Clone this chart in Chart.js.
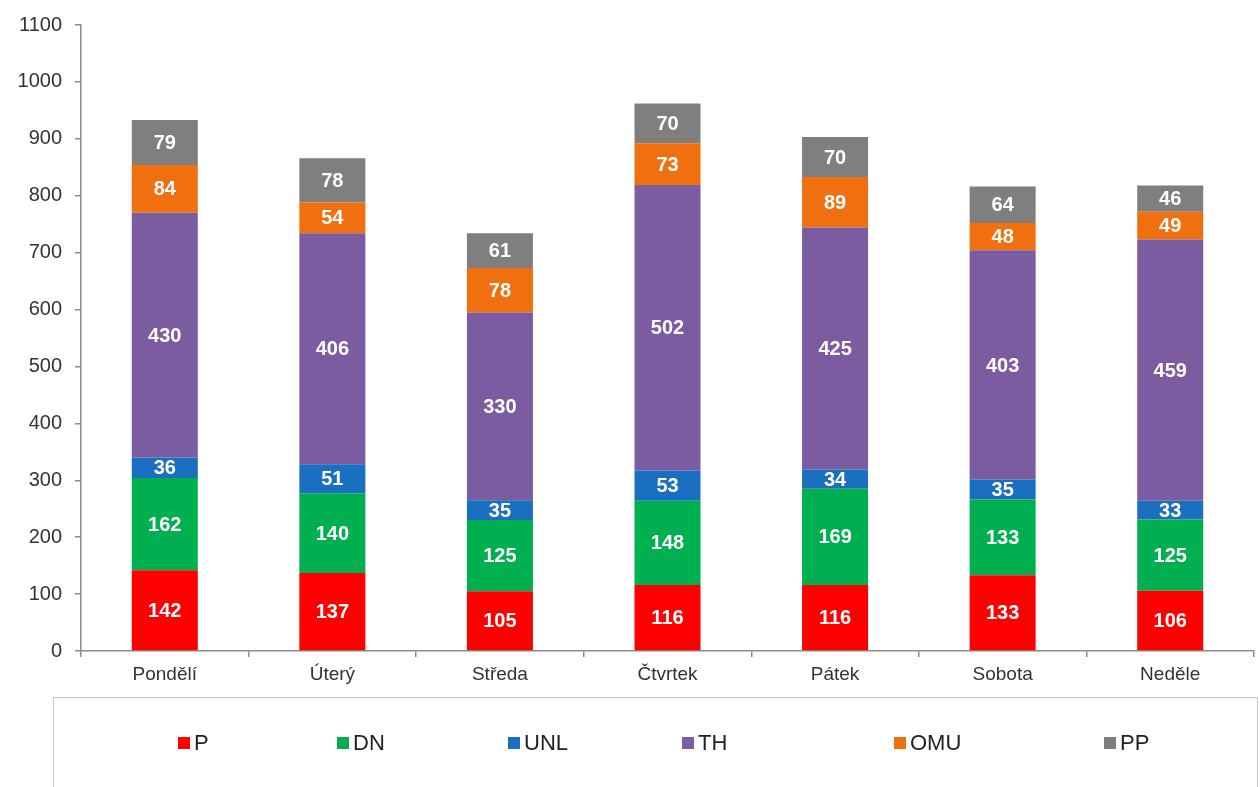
<!DOCTYPE html>
<html>
<head>
<meta charset="utf-8">
<script src="https://cdn.jsdelivr.net/npm/chart.js@4.4.1/dist/chart.umd.min.js"></script>
<style>
  body { margin: 0; background: #fff; font-family: "Liberation Sans", Arial, sans-serif; }
  #wrap { position: relative; width: 1260px; height: 787px; }
  #legend { position: absolute; left: 53px; top: 697px; width: 1205px; height: 100px;
            border: 1px solid #c8c8c8; box-sizing: border-box; }
  .item { position: absolute; top: 33px; font-size: 22px; color: #222; line-height: 24px; white-space: nowrap; }
  .item i { display: inline-block; width: 12px; height: 12px; margin-right: 4px; vertical-align: 1px; }
</style>
</head>
<body>
<div id="wrap">
  <canvas id="c" width="1260" height="787"></canvas>
  <div id="legend"></div>
</div>
<script>
days = ['Pondělí', 'Úterý', 'Středa', 'Čtvrtek', 'Pátek', 'Sobota', 'Neděle']
seriesNames = ['P', 'DN', 'UNL', 'TH', 'OMU', 'PP']
P   = [142, 137, 105, 116, 116, 133, 106]
DN  = [162, 140, 125, 148, 169, 133, 125]
UNL = [36, 51, 35, 53, 34, 35, 33]
TH  = [430, 406, 330, 502, 425, 403, 459]
OMU = [84, 54, 78, 73, 89, 48, 49]
PP  = [79, 78, 61, 70, 70, 64, 46]
colors = ['#ff0000', '#00b050', '#1a6fc0', '#7b5ca0', '#f07010', '#7f7f7f']
legendLeft = [124, 283, 454, 628, 840, 1050]

values = [P, DN, UNL, TH, OMU, PP]
data = seriesNames.map((name, i) => ({
    label: name,
    data: values[i],
    backgroundColor: colors[i],
    borderWidth: 0,
    categoryPercentage: 1,
    barPercentage: 0.394,
}))

// white value labels in the middle of each segment
barLabels = {
    id: 'barLabels',
    afterDatasetsDraw(chart) {
        const ctx = chart.ctx
        ctx.save()
        ctx.fillStyle = '#fff'
        ctx.font = 'bold 20px "Liberation Sans", Arial, sans-serif'
        ctx.textAlign = 'center'
        ctx.textBaseline = 'middle'
        chart.data.datasets.forEach((ds, i) => {
            chart.getDatasetMeta(i).data.forEach((bar, j) => {
                const p = bar.getCenterPoint()
                ctx.fillText(ds.data[j], p.x, p.y + 1)
            })
        })
        ctx.restore()
    }
}

fontX = { family: '"Liberation Sans", Arial, sans-serif', size: 19 }
fontY = { family: '"Liberation Sans", Arial, sans-serif', size: 20 }

config = {
    type: 'bar',
    data: { labels: days, datasets: data },
    options: {
        responsive: false,
        animation: false,
        layout: { padding: { top: 24, right: 6, left: 0, bottom: 0 } },
        plugins: {
            legend: { display: false },
            tooltip: { enabled: false },
        },
        scales: {
            x: {
                stacked: true,
                afterFit(s) { s.height = 136 },
                border: { color: '#8c8c8c', width: 1.5 },
                grid: { drawOnChartArea: false, tickLength: 6, color: '#8c8c8c', lineWidth: 1.5 },
                ticks: { color: '#333', font: fontX, padding: 6 },
            },
            y: {
                stacked: true,
                min: 0,
                max: 1100,
                afterFit(s) { s.width = 81 },
                border: { color: '#8c8c8c', width: 1.5 },
                grid: { drawOnChartArea: false, tickLength: 6, color: '#8c8c8c', lineWidth: 1.5 },
                ticks: { stepSize: 100, color: '#333', font: fontY, padding: 13,
                         callback: v => String(v) },
            },
        },
    },
    plugins: [barLabels],
}

new Chart(document.getElementById('c'), config)

legendEl = document.getElementById('legend')
seriesNames.forEach((name, i) => {
    const d = document.createElement('div')
    d.className = 'item'
    d.style.left = legendLeft[i] + 'px'
    d.innerHTML = '<i style="background:' + colors[i] + '"></i>' + name
    legendEl.appendChild(d)
})
</script>
</body>
</html>
